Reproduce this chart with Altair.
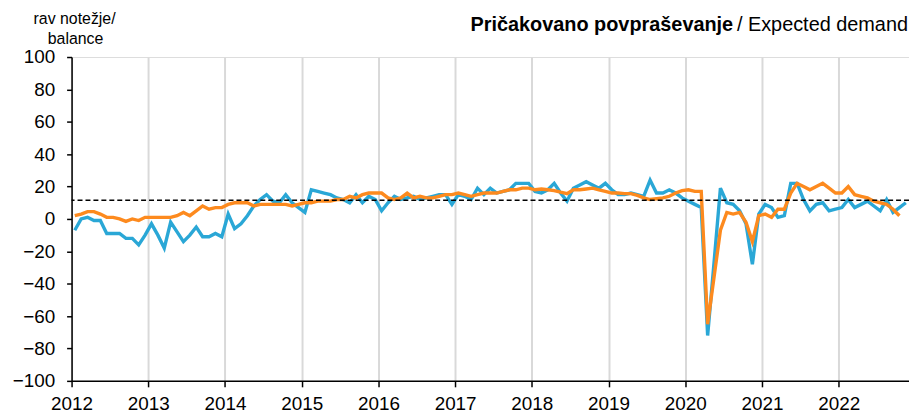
import altair as alt
import pandas as pd

# Monthly survey balances, Jan 2012 onwards
blue_values = [
    -7, 0, 1, -1, -1, -9, -9, -9, -12, -12, -16, -10,
    -3, -10, -18, -2, -8, -14, -10, -5, -11, -11, -9, -11,
    3, -6, -3, 2, 8, 12, 15, 11, 10, 15, 10, 7,
    4, 18, 17, 16, 15, 13, 12, 10, 15, 10, 14, 12,
    5, 10, 14, 12, 13, 14, 12, 13, 14, 15, 15, 9,
    15, 14, 12, 19, 15, 19, 16, 17, 18, 22, 22, 22,
    17, 16, 18, 22, 16, 11, 19, 21, 23, 21, 19, 22,
    18, 15, 15, 16, 15, 14, 24, 16, 16, 18, 16, 13,
    11, 9, 7, -72, -27, 19, 10, 9, 5, -3, -28, 3,
    9, 7, 1, 2, 22, 22, 12, 5, 9, 10, 5, 6,
    7, 12, 7, 9, 11, 8, 5, 12, 4, 7, 10,
]
orange_values = [
    2, 3, 4.5, 4.5, 3, 1, 1, 0, -1.5, 0, -1, 1,
    1, 1, 1, 1, 2, 4, 2, 5, 8, 6, 7, 7,
    9, 10, 10, 10, 8, 9, 9, 9, 9, 9, 8, 9,
    10, 10, 11, 11, 11, 12, 12, 14, 13, 15, 16, 16,
    16, 13, 12, 13, 16, 13, 14, 13, 13, 14, 15, 15,
    16, 15, 14, 15, 16, 16, 16, 17, 18, 18, 19, 19,
    18, 18.5, 18, 17.5, 16.5, 15.6, 18, 18, 18.5, 19, 18, 17,
    16, 16, 15.6, 15.6, 14.5, 13, 12, 12.5, 13, 14, 16, 17.5,
    18, 17, 17, -65, -36, -7, 4, 3, 4, -2, -14, 2,
    3, 1, 6, 6, 16, 22, 20, 18, 20, 22, 19, 16,
    16, 20, 15, 14, 13, 11, 10, 9, 6, 2,
]
long_term_average = [11.5]
year_ticks = list(range(2012, 2023))
y_ticks = list(range(-100, 101, 20))

start_year = 2012
blue_df = pd.DataFrame({
    "t": [start_year + (i + 0.5) / 12 for i in range(len(blue_values))],
    "v": blue_values,
})
orange_df = pd.DataFrame({
    "t": [start_year + (i + 0.5) / 12 for i in range(len(orange_values))],
    "v": orange_values,
})
avg_df = pd.DataFrame({"v": long_term_average})

FONT = "Liberation Sans"
x_end = start_year + 131 / 12

x_scale = alt.Scale(domain=[start_year, x_end], nice=False, zero=False)
y_scale = alt.Scale(domain=[-100, 100], nice=False)

x_axis = alt.Axis(
    values=year_ticks, format="d", title=None, grid=True,
    gridColor="#d9d9d9", gridWidth=2, domainColor="black", domainWidth=1.5,
    tickColor="black", tickSize=6, tickWidth=1.5, labelFontSize=19,
    labelFont=FONT, labelColor="black", labelPadding=8, labelFlush=False,
    labelOverlap=False,
)
y_axis = alt.Axis(
    values=y_ticks, title=None, grid=False, domainColor="black",
    domainWidth=1.5, tickColor="black", tickSize=5, tickWidth=1.5,
    labelFontSize=19, labelFont=FONT, labelColor="black", labelPadding=12,
    labelOverlap=False,
)

X = alt.X("t:Q", scale=x_scale, axis=x_axis)
Y = alt.Y("v:Q", scale=y_scale, axis=y_axis)

blue_line = alt.Chart(blue_df).mark_line(color="#2aa7d6", strokeWidth=3.4).encode(x=X, y=Y)
orange_line = alt.Chart(orange_df).mark_line(color="#fd8a1e", strokeWidth=3.4).encode(x=X, y=Y)
avg_rule = alt.Chart(avg_df).mark_rule(
    color="black", strokeWidth=1.6, strokeDash=[5, 3]
).encode(y=Y)

ylab1 = alt.Chart(avg_df).mark_text(
    font=FONT, fontSize=16, align="center", baseline="middle", color="black"
).encode(x=alt.value(3), y=alt.value(-38), text=alt.value("rav notežje/"))
ylab2 = alt.Chart(avg_df).mark_text(
    font=FONT, fontSize=16, align="center", baseline="middle", color="black"
).encode(x=alt.value(4), y=alt.value(-18), text=alt.value("balance"))

title_norm = alt.Chart(avg_df).mark_text(
    font=FONT, fontSize=20, align="right", baseline="middle", color="black"
).encode(x=alt.value(842), y=alt.value(-32), text=alt.value("/ Expected demand"))
title_bold = alt.Chart(avg_df).mark_text(
    font=FONT, fontSize=20, fontWeight="bold", align="right",
    baseline="middle", color="black"
).encode(x=alt.value(666), y=alt.value(-32), text=alt.value("Pričakovano povpraševanje"))

chart = alt.layer(
    blue_line, orange_line, avg_rule, ylab1, ylab2, title_bold, title_norm
).properties(
    width=843, height=326,
    autosize=alt.AutoSizeParams(type="none"),
    padding={"left": 64, "top": 48, "right": 0, "bottom": 31},
).configure_view(stroke=None).configure(background="white")

chart.save("out.html", embed_options={"renderer": "svg", "actions": False})
